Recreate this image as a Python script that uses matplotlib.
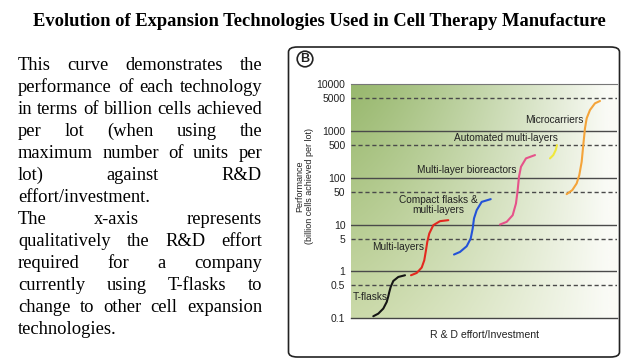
import numpy as np
import matplotlib as mpl
mpl.use('Agg')
import matplotlib.pyplot as plt
from matplotlib.patches import FancyBboxPatch, Circle

DPI = 100
W, H = 638, 359

title = "Evolution of Expansion Technologies Used in Cell Therapy Manufacture"
# (line text, justified?)
para = [
    ("This curve demonstrates the", True),
    ("performance of each technology", True),
    ("in terms of billion cells achieved", True),
    ("per lot (when using the", True),
    ("maximum number of units per", True),
    ("lot) against R&D", True),
    ("effort/investment.", False),
    ("The x-axis represents", True),
    ("qualitatively the R&D effort", True),
    ("required for a company", True),
    ("currently using T-flasks to", True),
    ("change to other cell expansion", True),
    ("technologies.", False),
]

# y ticks (log), solid vs dashed guide lines
yticks = [0.1, 0.5, 1, 5, 10, 50, 100, 500, 1000, 5000, 10000]
ytick_labels = ["0.1", "0.5", "1", "5", "10", "50", "100", "500", "1000", "5000", "10000"]
solid_levels = [1, 10, 100, 1000]
dashed_levels = [0.5, 5, 50, 500, 5000]

# curves: x = effort (0-100), y = billion cells per lot
tflask_x = [8.38, 10.26, 12.14, 13.42, 14.02, 14.40, 14.92, 15.90, 17.78, 20.30]
tflask_y = [0.109, 0.124, 0.159, 0.220, 0.291, 0.360, 0.461, 0.620, 0.755, 0.821]
multi_x = [22.55, 24.70, 26.58, 27.55, 28.19, 28.68, 29.43, 30.94, 33.46, 36.58]
multi_y = [0.821, 0.920, 1.20, 1.72, 2.82, 4.25, 6.43, 9.68, 11.8, 12.4]
compact_x = [38.72, 40.97, 43.49, 45.00, 45.75, 46.24, 47.25, 49.13, 52.52]
compact_y = [2.28, 2.59, 3.43, 5.02, 8.22, 13.5, 20.3, 30.5, 34.9]
bioreac_x = [56.01, 58.53, 60.78, 62.02, 62.66, 63.15, 63.90, 65.78, 69.17]
bioreac_y = [10.0, 11.4, 15.8, 28.2, 54.5, 105, 172, 260, 306]
automated_x = [74.81, 76.05, 76.95, 77.44]
automated_y = [260, 306, 391, 501]
micro_x = [81.08, 83.19, 84.84, 85.82, 86.72, 87.32, 87.96, 88.60, 89.84, 91.72, 93.60]
micro_y = [44.7, 54.5, 75.7, 114, 220, 501, 1143, 1871, 2818, 3917, 4395]

curves = [
    (tflask_x, tflask_y, "#151515"),
    (multi_x, multi_y, "#e3281f"),
    (compact_x, compact_y, "#2352d8"),
    (bioreac_x, bioreac_y, "#e6528a"),
    (automated_x, automated_y, "#f0e83a"),
    (micro_x, micro_y, "#f4a43a"),
]

labels = [
    ("T-flasks", 0.7, 0.277, "left"),
    ("Multi-layers", 17.7, 3.27, "center"),
    ("Compact flasks &\nmulti-layers", 32.7, 26, "center"),
    ("Multi-layer bioreactors", 43.6, 146, "center"),
    ("Automated multi-layers", 58.3, 708, "center"),
    ("Microcarriers", 76.3, 1722, "center"),
]

fig = plt.figure(figsize=(W / DPI, H / DPI), dpi=DPI)
fig.patch.set_facecolor("white")
renderer = fig.canvas.get_renderer()

fig.text(319 / W, 1 - 22 / H, title, ha="center", va="center",
         family="Liberation Serif", weight="bold", fontsize=13.3)

# justified paragraph on the left
x_left, x_right = 18, 262
serif = "Liberation Serif"
# font size so the widest justified line just fits the column
probe = [fig.text(0, 0, l, family=serif, fontsize=10) for l, j in para if j]
widest = max(p.get_window_extent(renderer).width for p in probe)
for p in probe:
    p.remove()
fs = 10 * (x_right - x_left) / widest * 0.995

for i, (line, just) in enumerate(para):
    yc = 1 - (65 + 22 * i) / H
    words = line.split()
    kw = dict(family=serif, fontsize=fs, va="center", ha="left")
    if not just:
        fig.text(x_left / W, yc, line, **kw)
        continue
    txts = [fig.text(0, yc, w, **kw) for w in words]
    widths = [t.get_window_extent(renderer).width for t in txts]
    gap = (x_right - x_left - sum(widths)) / (len(words) - 1)
    xp = x_left
    for t, w in zip(txts, widths):
        t.set_x(xp / W)
        xp += w + gap

# rounded frame around the chart
frame = FancyBboxPatch((288.5 / W, 1 - 357 / H), (619.5 - 288.5) / W, (357 - 47) / H,
                       boxstyle="round,pad=0,rounding_size=0.014",
                       transform=fig.transFigure, fill=False, lw=1.2, ec="#222222")
fig.patches.append(frame)

# circled B (position in inches so the circle stays round)
fig.patches.append(Circle((305 / DPI, (H - 59) / DPI), 7.8 / DPI,
                          transform=fig.dpi_scale_trans,
                          fill=False, lw=1.2, ec="#222222"))
fig.text(305 / W, 1 - 59 / H, "B", ha="center", va="center", fontsize=9,
         weight="bold", family="Liberation Sans", color="#222222")

ax = fig.add_axes([351 / W, 1 - 318 / H, 266 / W, (318 - 84.3) / H])
ax.set_yscale("log")
ax.set_xlim(0, 100)
ax.set_ylim(0.1, 10000)

# green-to-white background gradient
gx = np.linspace(0, 1, 400)
gy = np.linspace(0, 1, 200)[:, None, None]
t = np.clip(gx / 0.96, 0, 1) ** 1.25
top = np.array([152, 184, 110]) / 255
bottom = np.array([203, 218, 170]) / 255
white = np.array([250, 251, 246]) / 255
left = top * (1 - gy) + bottom * gy
img = left * (1 - t[None, :, None]) + white * t[None, :, None]
ax.imshow(img, extent=[0, 1, 0, 1], transform=ax.transAxes, aspect="auto", zorder=0)

for lv in solid_levels:
    ax.axhline(lv, color="#4a4a4a", lw=1.0, zorder=1)
for lv in dashed_levels:
    ax.axhline(lv, color="#4a4a4a", lw=1.0, ls=(0, (3, 2)), zorder=1)

for xs, ys, c in curves:
    ax.plot(xs, ys, color=c, lw=1.5, zorder=3, solid_capstyle="round",
            solid_joinstyle="round")

for txt, x, y, ha in labels:
    ax.text(x, y, txt, ha=ha, va="center", fontsize=7.3, color="#222222",
            family="Liberation Sans", linespacing=1.0, zorder=4)

ax.set_yticks(yticks)
ax.set_yticklabels(ytick_labels, family="Liberation Sans")
ax.yaxis.set_minor_locator(mpl.ticker.NullLocator())
ax.set_xticks([])
ax.tick_params(axis="y", length=0, pad=4, labelsize=7.5, labelcolor="#222222")
for s in ["left", "right"]:
    ax.spines[s].set_visible(False)
ax.spines["top"].set_color("#777777")
ax.spines["top"].set_linewidth(0.8)
ax.spines["bottom"].set_color("#444444")
ax.spines["bottom"].set_linewidth(1.0)

ax.set_xlabel("R & D effort/Investment", fontsize=7.6, color="#222222",
              family="Liberation Sans", labelpad=9)
fig.text(304.5 / W, 1 - 186 / H, "Performance\n(billion cells achieved per lot)",
         rotation=90, ha="center", va="center", fontsize=6.5, color="#222222",
         family="Liberation Sans", linespacing=1.15)

plt.savefig("out.png", dpi=DPI)
